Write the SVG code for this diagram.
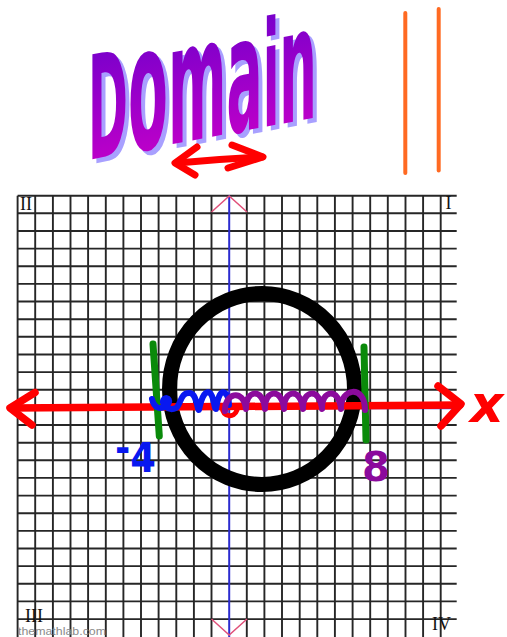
<svg xmlns="http://www.w3.org/2000/svg" width="507" height="637" viewBox="0 0 507 637">
<style>
.grid{stroke:#262626;stroke-width:1.9;fill:none}
.hand{fill:none;stroke-linecap:round;stroke-linejoin:round}
.roman{font-family:"Liberation Serif",serif;font-size:18px;fill:#111}
.word{font-family:"DejaVu Sans Condensed","DejaVu Sans",sans-serif;font-weight:bold}
</style>
<defs>
<linearGradient id="wg" x1="0" y1="0" x2="0" y2="1">
<stop offset="0" stop-color="#5c00cc"/>
<stop offset="1" stop-color="#d200c8"/>
</linearGradient>
</defs>
<rect width="507" height="637" fill="#fff"/>

<g id="title">
<g transform="translate(92,164) skewY(-10.6)">
<text class="word" fill="#a8a0ff" textLength="229" lengthAdjust="spacingAndGlyphs"><tspan font-size="144">D</tspan><tspan font-size="174">o</tspan><tspan font-size="168">m</tspan><tspan font-size="160">a</tspan><tspan font-size="146">i</tspan><tspan font-size="158">n</tspan></text>
</g>
<g transform="translate(88,160) skewY(-10.6)">
<text class="word" fill="url(#wg)" textLength="229" lengthAdjust="spacingAndGlyphs"><tspan font-size="144">D</tspan><tspan font-size="174">o</tspan><tspan font-size="168">m</tspan><tspan font-size="160">a</tspan><tspan font-size="146">i</tspan><tspan font-size="158">n</tspan></text>
</g>
</g>

<g id="title-arrow" class="hand" stroke="#ff0000" stroke-width="7">
<path d="M177,163 Q220,159 262,157"/>
<path d="M197,147 L175,163 L195,175"/>
<path d="M232,145 L263,157 L228,168"/>
</g>

<g id="parallel-marks" class="hand" stroke="#ff6a22" stroke-width="4">
<path d="M405.3,13 V173"/>
<path d="M438.7,9 V170.5"/>
</g>

<g id="grid">
<path class="grid" d="M17.6 195.7V637M35.2 195.7V637M52.9 195.7V637M70.5 195.7V637M88.1 195.7V637M105.8 195.7V637M123.4 195.7V637M141 195.7V637M158.6 195.7V637M176.3 195.7V637M193.9 195.7V637M211.5 195.7V637M246.8 195.7V637M264.4 195.7V637M282 195.7V637M299.7 195.7V637M317.3 195.7V637M334.9 195.7V637M352.6 195.7V637M370.2 195.7V637M387.8 195.7V637M405.5 195.7V637M423.1 195.7V637M440.7 195.7V637"/>
<path class="grid" d="M17.6 195.7H456.7M17.6 213.3H456.7M17.6 231H456.7M17.6 248.6H456.7M17.6 266.3H456.7M17.6 283.9H456.7M17.6 301.5H456.7M17.6 319.2H456.7M17.6 336.8H456.7M17.6 354.5H456.7M17.6 372.1H456.7M17.6 389.7H456.7M17.6 407.4H456.7M17.6 425H456.7M17.6 442.7H456.7M17.6 460.3H456.7M17.6 477.9H456.7M17.6 495.6H456.7M17.6 513.2H456.7M17.6 530.9H456.7M17.6 548.5H456.7M17.6 566.1H456.7M17.6 583.8H456.7M17.6 601.4H456.7M17.6 619.1H456.7"/>
<text class="roman" x="20" y="210">II</text>
<text class="roman" x="445.5" y="209">I</text>
<text class="roman" x="25" y="621.5">III</text>
<text class="roman" x="432" y="630">IV</text>
<text x="18" y="634.5" font-family="'Liberation Sans',sans-serif" font-size="11" fill="#8a8a8a" textLength="88" lengthAdjust="spacingAndGlyphs">themathlab.com</text>
</g>

<g id="axes">
<path d="M229.2,195.5 V637" stroke="#2b2bcf" stroke-width="2"/>
<path d="M17.6,408.5 H456.7" stroke="#4040e0" stroke-width="1.5"/>
<path d="M211.5,212 L229.2,196 L247,212" fill="none" stroke="#e0507a" stroke-width="1.5"/>
<path d="M211.5,619 L229.2,635 L247,619" fill="none" stroke="#e0507a" stroke-width="1.5"/>
</g>

<g id="circle">
<ellipse cx="262" cy="389" rx="92.5" ry="95.5" fill="none" stroke="#000" stroke-width="15"/>
</g>

<g id="x-axis" class="hand" stroke="#ff0000" stroke-width="7.5">
<path d="M11,408 L460,405"/>
<path d="M35,392.5 L10,408 L32,425"/>
<path d="M438,386 L461,404 L441,426"/>
<path d="M222,407 C223,417 234,419 237,410" stroke-width="5"/>
</g>

<g id="bounds" class="hand" stroke="#0a8a0a" stroke-width="7">
<path d="M153,344 L159.3,436"/>
<path d="M364,347 L366,440"/>
</g>

<g id="squiggles" class="hand" stroke-width="6">
<path stroke="#0818f0" d="M152,399 C154,408 160,410 166,406 C172,401 168,396 164,399 C160,403 168,412 176,408 C181,405 180,392 190,393 C197,394 197,410 199,410 C202,395 206,390 210,393 C214,396 214,409 216,409 C218,396 221,390 225,393 C229,396 229,402 229,405"/>
<path stroke="#8b0a9c" d="M225,411 C224,394 243,387 246,409 C245,390 263,387 265,409 C264,390 282,387 284,409 C283,390 301,387 303,409 C302,390 320,387 322,409 C321,390 339,387 341,409 C340,388 365,384 365,410"/>
</g>

<g id="labels">
<text x="115" y="472" font-family="'DejaVu Sans',sans-serif" font-weight="bold" font-size="41" fill="#0818f0" textLength="41" lengthAdjust="spacingAndGlyphs"><tspan dy="-10">-</tspan><tspan dy="10">4</tspan></text>
<text x="362" y="481" font-family="'DejaVu Sans',sans-serif" font-weight="bold" font-size="40" fill="#8b0a9c">8</text>
<text x="470" y="422" font-family="'DejaVu Sans',sans-serif" font-weight="bold" font-style="italic" font-size="52" fill="#ff0000">x</text>
</g>
</svg>
